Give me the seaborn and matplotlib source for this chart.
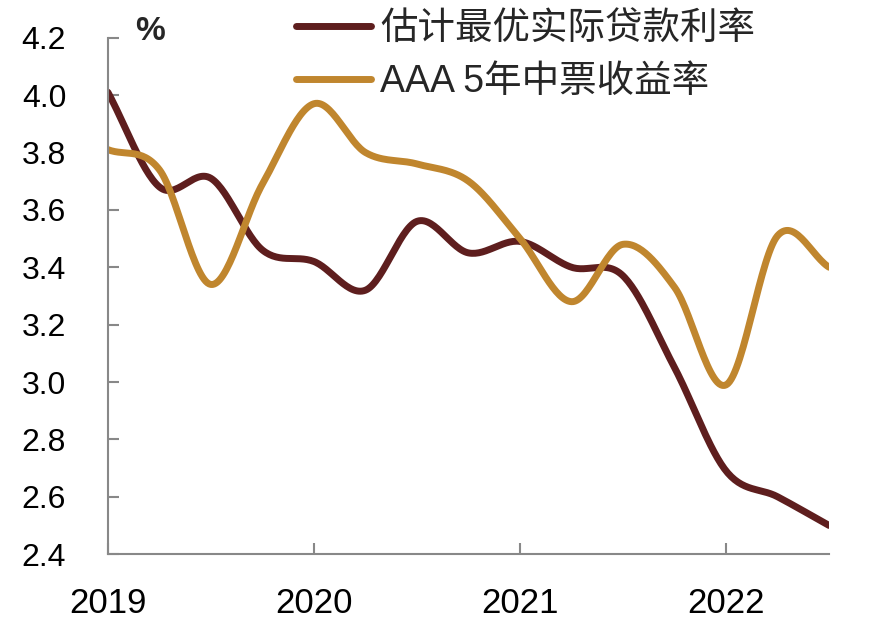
import numpy as np
import pandas as pd
import seaborn as sns
import matplotlib
matplotlib.use('Agg')
import matplotlib.pyplot as plt

# 季度数据 (2019Q1 - 2022Q3)
quarters = [2019.0, 2019.25, 2019.5, 2019.75, 2020.0, 2020.25, 2020.5, 2020.75,
            2021.0, 2021.25, 2021.5, 2021.75, 2022.0, 2022.25, 2022.5]
loan_rate = [4.01, 3.68, 3.71, 3.46, 3.42, 3.32, 3.56, 3.45,
             3.49, 3.40, 3.37, 3.05, 2.69, 2.60, 2.50]
mtn_yield = [3.81, 3.74, 3.34, 3.69, 3.97, 3.80, 3.76, 3.70,
             3.50, 3.28, 3.48, 3.33, 2.99, 3.51, 3.40]
series_names = ['估计最优实际贷款利率', 'AAA 5年中票收益率']
year_ticks = [2019, 2020, 2021, 2022]
y_ticks = [2.4, 2.6, 2.8, 3.0, 3.2, 3.4, 3.6, 3.8, 4.0, 4.2]

colors = ['#5E1E1E', '#C0862E']


# Excel 风格的平滑线 (Catmull-Rom), 只用于画图
def smooth(x, y, n=30):
    x = np.asarray(x, float)
    y = np.asarray(y, float)
    px = np.r_[2 * x[0] - x[1], x, 2 * x[-1] - x[-2]]
    py = np.r_[2 * y[0] - y[1], y, 2 * y[-1] - y[-2]]
    t = np.linspace(0, 1, n, endpoint=False)
    xs, ys = [], []
    for i in range(1, len(px) - 2):
        for p, out in ((px, xs), (py, ys)):
            p0, p1, p2, p3 = p[i - 1], p[i], p[i + 1], p[i + 2]
            out.extend(0.5 * (2 * p1 + (-p0 + p2) * t
                              + (2 * p0 - 5 * p1 + 4 * p2 - p3) * t ** 2
                              + (-p0 + 3 * p1 - 3 * p2 + p3) * t ** 3))
    xs.append(x[-1])
    ys.append(y[-1])
    return np.array(xs), np.array(ys)


frames = []
for name, vals in zip(series_names, [loan_rate, mtn_yield]):
    sx, sy = smooth(quarters, vals)
    frames.append(pd.DataFrame({'x': sx, 'y': sy, 'series': name}))
df = pd.concat(frames, ignore_index=True)

sns.set_style('white')
plt.rcParams['font.family'] = ['Liberation Sans', 'Noto Sans CJK SC', 'DejaVu Sans']

fig = plt.figure(figsize=(8.7, 6.29), dpi=100)
ax = fig.add_axes([0.124, 0.119, 0.829, 0.821])

sns.lineplot(data=df, x='x', y='y', hue='series', palette=colors,
             linewidth=5, sort=False, estimator=None, ax=ax, legend=False)

ax.set_xlim(2019, 2022.5)
ax.set_ylim(2.4, 4.2)
ax.set_xticks(year_ticks)
ax.set_xticklabels([str(y) for y in year_ticks])
ax.set_yticks(y_ticks)
ax.set_yticklabels([f'{v:.1f}' for v in y_ticks])
ax.set_xlabel('')
ax.set_ylabel('')

for side in ['top', 'right']:
    ax.spines[side].set_visible(False)
for side in ['left', 'bottom']:
    ax.spines[side].set_color('#888888')
    ax.spines[side].set_linewidth(1.5)

ax.tick_params(axis='both', direction='in', length=8, width=1.5, color='#888888',
               labelcolor='black', bottom=True, left=True)
ax.tick_params(axis='x', pad=24, labelsize=25)
ax.tick_params(axis='y', pad=30, labelsize=23)

ax.text(150 / 870, 1 - 32 / 629, '%', transform=fig.transFigure, fontsize=24,
        fontweight='bold', ha='center', va='center')

handles = [plt.Line2D([], [], color=c, linewidth=5, solid_capstyle='round') for c in colors]
fig.legend(handles, series_names, loc='upper left', bbox_to_anchor=(281 / 870, 1 + 4 / 629),
           frameon=False, fontsize=27, handlelength=2.0, handletextpad=0.25,
           labelspacing=0.45, borderaxespad=0)

fig.savefig('out.png', dpi=100)
